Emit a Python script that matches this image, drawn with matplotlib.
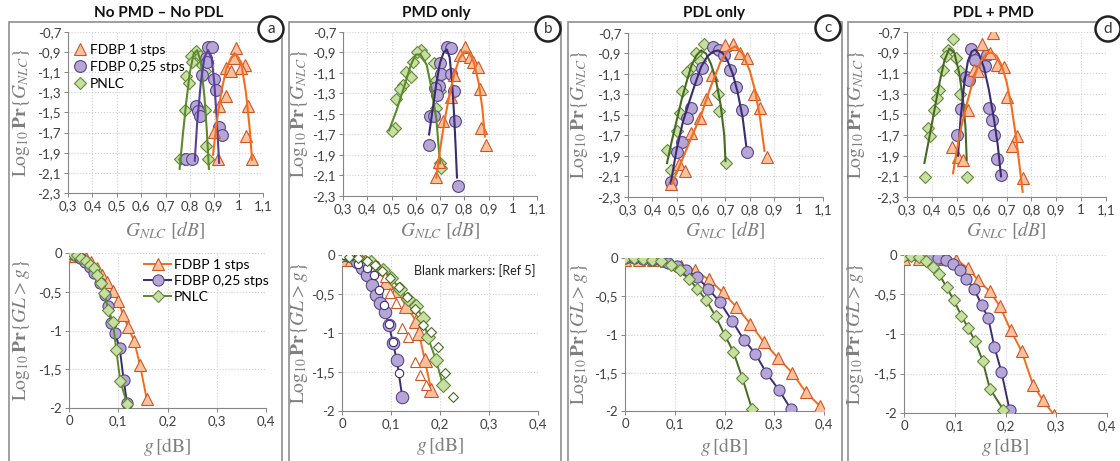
import matplotlib.pyplot as plt
from matplotlib.patches import Rectangle, Ellipse
from matplotlib.lines import Line2D

W, H = 1120, 461

plt.rcParams['font.family'] = ['Lato', 'DejaVu Sans']
plt.rcParams['mathtext.fontset'] = 'stix'

# ---------------- data: top row (scatter + fitted curve) ----------------
# panel a : No PMD - No PDL
a_f1_x = [0.99, 0.98, 0.95, 0.967, 1.025, 1.01, 0.95, 0.92, 1.04, 0.9, 1.03, 0.915, 1.056]
a_f1_y = [-0.86, -0.96, -1.06, -1.09, -1.03, -1.06, -1.34, -1.44, -1.44, -1.69, -1.73, -1.96, -1.96]
a_f1_fx = [0.895, 0.91, 0.93, 0.95, 0.97, 0.99, 1.01, 1.03, 1.045, 1.055]
a_f1_fy = [-1.92, -1.6, -1.28, -1.06, -0.95, -0.92, -1.0, -1.3, -1.65, -1.97]
a_f025_x = [0.875, 0.89, 0.868, 0.872, 0.85, 0.9, 0.908, 0.826, 0.835, 0.84, 0.92, 0.93, 0.785, 0.81]
a_f025_y = [-0.85, -0.85, -0.96, -1.0, -1.13, -1.17, -1.28, -1.44, -1.49, -1.53, -1.64, -1.72, -1.96, -1.96]
a_f025_fx = [0.82, 0.83, 0.845, 0.86, 0.875, 0.89, 0.90, 0.91, 0.92]
a_f025_fy = [-1.98, -1.6, -1.2, -0.95, -0.88, -0.97, -1.2, -1.55, -2.0]
a_pn_x = [0.826, 0.806, 0.84, 0.81, 0.85, 0.86, 0.785, 0.796, 0.78, 0.86, 0.867, 0.758, 0.776, 0.874]
a_pn_y = [-0.89, -0.94, -0.94, -1.0, -1.03, -1.09, -1.14, -1.21, -1.48, -1.48, -1.83, -1.96, -1.96, -1.96]
a_pn_fx = [0.758, 0.77, 0.785, 0.80, 0.815, 0.83, 0.845, 0.86, 0.87, 0.878]
a_pn_fy = [-2.06, -1.75, -1.4, -1.1, -0.92, -0.88, -1.0, -1.35, -1.7, -2.06]

# panel b : PMD only
b_f1_x = [0.802, 0.781, 0.822, 0.836, 0.857, 0.758, 0.744, 0.864, 0.712, 0.87, 0.89, 0.682, 0.695]
b_f1_y = [-0.85, -0.92, -0.94, -0.99, -1.04, -1.12, -1.33, -1.26, -1.57, -1.64, -1.8, -2.11, -1.97]
b_f1_fx = [0.685, 0.70, 0.72, 0.74, 0.76, 0.78, 0.80, 0.82, 0.84, 0.86, 0.875, 0.885]
b_f1_fy = [-2.12, -1.85, -1.55, -1.3, -1.1, -0.96, -0.89, -0.9, -1.0, -1.2, -1.45, -1.72]
b_f025_x = [0.729, 0.747, 0.701, 0.706, 0.747, 0.696, 0.678, 0.689, 0.758, 0.657, 0.674, 0.763, 0.655, 0.774]
b_f025_y = [-0.85, -0.86, -1.0, -1.11, -1.11, -1.23, -1.25, -1.31, -1.28, -1.52, -1.52, -1.57, -1.8, -2.2]
b_f025_fx = [0.655, 0.67, 0.685, 0.70, 0.715, 0.728, 0.74, 0.75, 0.758, 0.765, 0.77]
b_f025_fy = [-1.70, -1.45, -1.2, -1.0, -0.9, -0.87, -0.95, -1.2, -1.5, -1.85, -2.12]
b_pn_x = [0.623, 0.607, 0.635, 0.589, 0.675, 0.561, 0.582, 0.685, 0.547, 0.534, 0.52, 0.699, 0.682, 0.514, 0.5, 0.7, 0.705]
b_pn_y = [-0.873, -0.895, -0.92, -0.99, -1.0, -1.09, -1.14, -1.17, -1.22, -1.26, -1.35, -1.28, -1.44, -1.64, -1.67, -1.98, -2.03]
b_pn_fx = [0.49, 0.52, 0.55, 0.58, 0.60, 0.62, 0.645, 0.665, 0.685, 0.70]
b_pn_fy = [-1.66, -1.47, -1.25, -1.02, -0.92, -0.92, -1.02, -1.25, -1.55, -1.98]

# panel c : PDL only
c_f1_x = [0.732, 0.698, 0.76, 0.787, 0.643, 0.622, 0.815, 0.842, 0.595, 0.56, 0.87, 0.51, 0.533, 0.478]
c_f1_y = [-0.81, -0.82, -0.9, -0.94, -1.11, -1.34, -1.3, -1.43, -1.53, -1.68, -1.91, -1.98, -2.05, -2.17]
c_f1_fx = [0.48, 0.52, 0.56, 0.60, 0.64, 0.68, 0.71, 0.74, 0.77, 0.80, 0.82, 0.84, 0.86]
c_f1_fy = [-2.17, -1.95, -1.72, -1.5, -1.22, -0.98, -0.87, -0.83, -0.9, -1.07, -1.25, -1.5, -1.85]
c_f025_x = [0.65, 0.673, 0.695, 0.605, 0.58, 0.72, 0.742, 0.56, 0.54, 0.52, 0.5, 0.767, 0.787, 0.476]
c_f025_y = [-0.84, -0.87, -0.91, -1.04, -1.15, -1.06, -1.23, -1.43, -1.53, -1.76, -1.86, -1.45, -1.86, -2.15]
c_f025_fx = [0.475, 0.50, 0.525, 0.55, 0.575, 0.60, 0.625, 0.65, 0.67, 0.69, 0.71, 0.73, 0.75, 0.77, 0.785]
c_f025_fy = [-2.17, -1.83, -1.57, -1.38, -1.2, -1.03, -0.93, -0.88, -0.87, -0.9, -0.98, -1.1, -1.28, -1.52, -1.8]
c_pn_x = [0.613, 0.577, 0.595, 0.56, 0.54, 0.522, 0.513, 0.502, 0.459, 0.476, 0.668, 0.675, 0.702]
c_pn_y = [-0.805, -0.896, -0.97, -1.04, -1.08, -1.27, -1.48, -1.66, -1.84, -2.04, -1.3, -1.46, -1.97]
c_pn_fx = [0.46, 0.48, 0.50, 0.52, 0.54, 0.56, 0.58, 0.60, 0.62, 0.64, 0.66, 0.68, 0.695, 0.70]
c_pn_fy = [-1.97, -1.75, -1.55, -1.35, -1.18, -1.02, -0.92, -0.87, -0.9, -1.0, -1.15, -1.4, -1.7, -1.95]

# panel d : PDL + PMD
d_f1_x = [0.644, 0.602, 0.632, 0.568, 0.584, 0.662, 0.689, 0.702, 0.545, 0.742, 0.722, 0.481, 0.504, 0.524, 0.766]
d_f1_y = [-0.71, -0.82, -0.9, -1.07, -1.08, -1.02, -1.04, -1.33, -1.46, -1.71, -1.81, -1.82, -1.91, -1.94, -2.12]
d_f1_fx = [0.485, 0.50, 0.52, 0.54, 0.56, 0.58, 0.60, 0.62, 0.64, 0.66, 0.68, 0.70, 0.72, 0.74, 0.765]
d_f1_fy = [-2.07, -1.85, -1.6, -1.4, -1.22, -1.07, -0.97, -0.91, -0.9, -0.93, -1.02, -1.18, -1.42, -1.75, -2.25]
d_f025_x = [0.559, 0.62, 0.575, 0.615, 0.539, 0.548, 0.517, 0.628, 0.642, 0.5, 0.651, 0.662, 0.678]
d_f025_y = [-0.865, -0.92, -0.97, -1.03, -1.14, -1.17, -1.45, -1.44, -1.55, -1.7, -1.7, -1.93, -2.09]
d_f025_fx = [0.505, 0.515, 0.53, 0.545, 0.56, 0.575, 0.59, 0.61, 0.63, 0.65, 0.665, 0.678]
d_f025_fy = [-1.9, -1.55, -1.2, -0.98, -0.89, -0.87, -0.92, -1.05, -1.27, -1.55, -1.8, -2.1]
d_pn_x = [0.484, 0.464, 0.495, 0.455, 0.443, 0.514, 0.427, 0.421, 0.407, 0.514, 0.383, 0.394, 0.374, 0.541]
d_pn_y = [-0.765, -0.87, -0.95, -0.93, -1.07, -1.08, -1.26, -1.34, -1.46, -1.3, -1.63, -1.71, -2.11, -2.11]
d_pn_fx = [0.37, 0.39, 0.41, 0.43, 0.45, 0.47, 0.49, 0.51, 0.525, 0.535, 0.54]
d_pn_fy = [-1.97, -1.72, -1.46, -1.2, -0.98, -0.86, -0.9, -1.1, -1.35, -1.62, -1.94]

# ---------------- data: bottom row (log CCDF) ----------------
a_g1_x = [0.0, 0.012, 0.024, 0.034, 0.045, 0.056, 0.066, 0.077, 0.089, 0.1, 0.11, 0.12, 0.132, 0.144, 0.158]
a_g1_y = [-0.04, -0.04, -0.04, -0.06, -0.12, -0.19, -0.28, -0.37, -0.49, -0.62, -0.8, -0.96, -1.13, -1.44, -1.89]
a_g025_x = [0.0, 0.012, 0.022, 0.032, 0.042, 0.051, 0.062, 0.073, 0.08, 0.086, 0.093, 0.103, 0.111, 0.118]
a_g025_y = [0.0, -0.02, -0.06, -0.11, -0.18, -0.26, -0.39, -0.54, -0.69, -0.9, -1.03, -1.23, -1.64, -1.94]
a_gpn_x = [0.0, 0.008, 0.016, 0.025, 0.034, 0.042, 0.05, 0.056, 0.064, 0.072, 0.08, 0.089, 0.096, 0.104, 0.118]
a_gpn_y = [0.0, -0.01, -0.03, -0.06, -0.1, -0.15, -0.2, -0.29, -0.39, -0.52, -0.73, -0.89, -1.25, -1.65, -1.95]

b_g1_x = [0.0, 0.02, 0.046, 0.073, 0.09, 0.112, 0.131, 0.152, 0.157, 0.169, 0.182]
b_g1_y = [-0.05, -0.05, -0.08, -0.17, -0.34, -0.45, -0.66, -0.85, -1.0, -1.35, -1.73]
b_g1r_x = [0.087, 0.097, 0.111, 0.122, 0.135, 0.148, 0.16, 0.172]
b_g1r_y = [-0.28, -0.49, -0.62, -0.94, -1.05, -1.37, -1.54, -1.67]
b_g025_x = [0.0, 0.01, 0.019, 0.03, 0.041, 0.051, 0.062, 0.07, 0.078, 0.087, 0.096, 0.104, 0.112, 0.123]
b_g025_y = [0.0, 0.0, -0.01, -0.09, -0.17, -0.25, -0.38, -0.51, -0.62, -0.73, -0.9, -1.13, -1.35, -1.82]
b_g025r_x = [0.005, 0.016, 0.033, 0.05, 0.065, 0.075, 0.085, 0.095, 0.105, 0.116]
b_g025r_y = [0.0, -0.01, -0.12, -0.17, -0.25, -0.45, -0.64, -0.88, -1.11, -1.51]
b_gpn_x = [0.0, 0.016, 0.033, 0.06, 0.084, 0.1, 0.118, 0.135, 0.152, 0.165, 0.175, 0.192, 0.206]
b_gpn_y = [0.0, -0.01, -0.04, -0.09, -0.19, -0.3, -0.43, -0.56, -0.66, -0.81, -1.05, -1.35, -1.67]
b_gpnr_x = [0.014, 0.033, 0.051, 0.067, 0.082, 0.097, 0.116, 0.132, 0.148, 0.165, 0.181, 0.196, 0.21, 0.227]
b_gpnr_y = [-0.02, -0.04, -0.08, -0.13, -0.21, -0.3, -0.41, -0.54, -0.69, -0.9, -0.99, -1.18, -1.51, -1.82]

c_g1_x = [0.0, 0.028, 0.056, 0.083, 0.112, 0.14, 0.168, 0.197, 0.224, 0.252, 0.279, 0.308, 0.336, 0.363, 0.391]
c_g1_y = [-0.03, -0.03, -0.03, -0.04, -0.1, -0.16, -0.28, -0.45, -0.64, -0.86, -1.1, -1.31, -1.5, -1.75, -1.93]
c_g025_x = [0.0, 0.018, 0.036, 0.054, 0.072, 0.086, 0.105, 0.123, 0.145, 0.167, 0.19, 0.216, 0.239, 0.262, 0.284, 0.31, 0.333]
c_g025_y = [0.0, 0.0, -0.01, -0.02, -0.03, -0.06, -0.1, -0.16, -0.25, -0.4, -0.57, -0.83, -1.07, -1.25, -1.5, -1.73, -1.97]
c_gpn_x = [0.0, 0.019, 0.037, 0.055, 0.073, 0.092, 0.11, 0.128, 0.145, 0.163, 0.182, 0.2, 0.218, 0.236, 0.255]
c_gpn_y = [0.0, 0.0, -0.01, -0.02, -0.04, -0.09, -0.16, -0.27, -0.4, -0.55, -0.76, -1.0, -1.23, -1.57, -1.97]

d_g1_x = [0.0, 0.03, 0.06, 0.083, 0.103, 0.127, 0.146, 0.169, 0.189, 0.21, 0.232, 0.254, 0.273, 0.295]
d_g1_y = [-0.05, -0.05, -0.05, -0.05, -0.06, -0.17, -0.32, -0.46, -0.65, -0.95, -1.22, -1.64, -1.83, -2.02]
d_g025_x = [0.0, 0.014, 0.027, 0.04, 0.053, 0.067, 0.082, 0.097, 0.11, 0.123, 0.138, 0.153, 0.166, 0.178, 0.192, 0.208]
d_g025_y = [0.0, 0.0, 0.0, -0.01, -0.02, -0.04, -0.06, -0.12, -0.19, -0.3, -0.43, -0.63, -0.8, -1.16, -1.48, -1.96]
d_gpn_x = [0.0, 0.013, 0.03, 0.044, 0.057, 0.069, 0.084, 0.098, 0.113, 0.127, 0.14, 0.155, 0.169, 0.196]
d_gpn_y = [-0.01, -0.01, -0.03, -0.08, -0.15, -0.24, -0.41, -0.57, -0.77, -0.93, -1.09, -1.34, -1.69, -1.96]

titles = ['No PMD \u2013 No PDL', 'PMD only', 'PDL only', 'PDL + PMD']
title_x = [159, 436, 714, 993]
letters = ['a', 'b', 'c', 'd']
letter_xy = [(271, 29), (548, 29), (828, 28), (1108, 29)]
frames = [(9, 282), (289, 561), (568, 842), (848, 1130)]
names = ['FDBP 1 stps', 'FDBP 0,25 stps', 'PNLC']

# colours
OR_LINE, OR_FACE, OR_EDGE = '#f26d1f', '#fbc19c', '#c9572a'
PU_LINE, PU_FACE, PU_EDGE = '#3b2c72', '#b6a6d6', '#55468a'
GR_LINE, GR_FACE, GR_EDGE = '#5b8a2c', '#c7dfa2', '#65883a'
GR_LINE2 = '#466a24'

fig = plt.figure(figsize=(11.2, 4.61), dpi=100)


def px_axes(x0, x1, y0, y1):
    return fig.add_axes([x0 / W, 1 - y1 / H, (x1 - x0) / W, (y1 - y0) / H])


def fmt(v):
    s = f'{v:g}'
    return s.replace('.', ',')


def style(ax, xt, yt):
    ax.set_xticks(xt)
    ax.set_yticks(yt)
    ax.set_xticklabels([fmt(round(v, 2)) for v in xt])
    ax.set_yticklabels([fmt(round(v, 2)) for v in yt])
    ax.set_xlim(xt[0], xt[-1])
    ax.set_ylim(yt[-1], yt[0])
    for s in ['top', 'right']:
        ax.spines[s].set_visible(False)
    for s in ['left', 'bottom']:
        ax.spines[s].set_color('#868686')
        ax.spines[s].set_linewidth(0.8)
    ax.grid(True, ls=':', color='#cfcfcf', lw=0.8)
    ax.set_axisbelow(True)
    ax.tick_params(labelsize=9.5, colors='#404040', length=3, width=0.7,
                   color='#868686', pad=2)
    ax.patch.set_alpha(0)


top_boxes = [(68, 263, 32, 193), (343, 537, 32, 196), (628, 823, 33, 197), (907, 1106, 32, 197)]
bot_boxes = [(69, 266, 253, 408), (342, 538, 255, 411), (625, 824, 258, 411), (904, 1107, 255, 413)]
ylab_x_top = [22, 300, 580, 857]
ylab_x_bot = [22, 300, 580, 855]
xlab_y_top = [230, 230, 230, 230]
xlab_y_bot = [447, 446, 447, 447]

top_data = [
    (a_f1_x, a_f1_y, a_f1_fx, a_f1_fy, a_f025_x, a_f025_y, a_f025_fx, a_f025_fy, a_pn_x, a_pn_y, a_pn_fx, a_pn_fy),
    (b_f1_x, b_f1_y, b_f1_fx, b_f1_fy, b_f025_x, b_f025_y, b_f025_fx, b_f025_fy, b_pn_x, b_pn_y, b_pn_fx, b_pn_fy),
    (c_f1_x, c_f1_y, c_f1_fx, c_f1_fy, c_f025_x, c_f025_y, c_f025_fx, c_f025_fy, c_pn_x, c_pn_y, c_pn_fx, c_pn_fy),
    (d_f1_x, d_f1_y, d_f1_fx, d_f1_fy, d_f025_x, d_f025_y, d_f025_fx, d_f025_fy, d_pn_x, d_pn_y, d_pn_fx, d_pn_fy),
]
bot_data = [
    (a_g1_x, a_g1_y, a_g025_x, a_g025_y, a_gpn_x, a_gpn_y),
    (b_g1_x, b_g1_y, b_g025_x, b_g025_y, b_gpn_x, b_gpn_y),
    (c_g1_x, c_g1_y, c_g025_x, c_g025_y, c_gpn_x, c_gpn_y),
    (d_g1_x, d_g1_y, d_g025_x, d_g025_y, d_gpn_x, d_gpn_y),
]

xt_top = [0.3, 0.4, 0.5, 0.6, 0.7, 0.8, 0.9, 1.0, 1.1]
yt_top = [-0.7, -0.9, -1.1, -1.3, -1.5, -1.7, -1.9, -2.1, -2.3]
xt_bot = [0, 0.1, 0.2, 0.3, 0.4]
yt_bot = [0, -0.5, -1, -1.5, -2]

for i in range(4):
    # panel frame and title
    x0, x1 = frames[i]
    fig.patches.append(Rectangle((x0 / W, -0.1), (x1 - x0) / W, 1.1 - 22 / H,
                                 transform=fig.transFigure, fill=False,
                                 ec='#8f8f8f', lw=1.2))
    fig.text(title_x[i] / W, 1 - 13 / H, titles[i], ha='center', va='center',
             fontsize=11, fontweight='bold', color='#111111')
    cx, cy = letter_xy[i]
    fig.patches.append(Ellipse((cx / W, 1 - cy / H), 25 / W, 25 / H,
                               transform=fig.transFigure, fc='white',
                               ec='#222222', lw=1.8, zorder=5))
    fig.text(cx / W, 1 - cy / H, letters[i], ha='center', va='center',
             fontsize=11, color='#333333', zorder=6)

    # top row
    (f1x, f1y, f1fx, f1fy, f2x, f2y, f2fx, f2fy, pnx, pny, pnfx, pnfy) = top_data[i]
    ax = px_axes(*top_boxes[i])
    style(ax, xt_top, yt_top)
    gl = GR_LINE if i < 2 else GR_LINE2
    ax.plot(pnx, pny, ls='none', marker='D', ms=6.5, mfc=GR_FACE, mec=GR_EDGE, mew=0.8, zorder=2)
    ax.plot(f2x, f2y, ls='none', marker='o', ms=8.5, mfc=PU_FACE, mec=PU_EDGE, mew=0.8, zorder=2)
    ax.plot(f1x, f1y, ls='none', marker='^', ms=9, mfc=OR_FACE, mec=OR_EDGE, mew=0.8, zorder=2)
    ax.plot(pnfx, pnfy, color=gl, lw=1.5, zorder=3)
    ax.plot(f2fx, f2fy, color=PU_LINE if i else '#5a3f9a', lw=1.5, zorder=3)
    ax.plot(f1fx, f1fy, color=OR_LINE, lw=1.5, zorder=3)
    bx0, bx1, by0, by1 = top_boxes[i]
    fig.text(ylab_x_top[i] / W, 1 - (by0 + by1) / 2 / H,
             r'$\mathrm{Log}_{10}\,\mathbf{Pr}\{G_{NLC}\}$', rotation=90,
             ha='center', va='center', fontsize=14, color='#7f7f7f')
    fig.text((bx0 + bx1) / 2 / W, 1 - xlab_y_top[i] / H, r'$G_{NLC}\ [dB]$',
             ha='center', va='center', fontsize=14, color='#7f7f7f')
    if i == 0:
        handles = [
            Line2D([], [], ls='none', marker='^', ms=9, mfc=OR_FACE, mec=OR_EDGE, mew=0.8),
            Line2D([], [], ls='none', marker='o', ms=8.5, mfc=PU_FACE, mec=PU_EDGE, mew=0.8),
            Line2D([], [], ls='none', marker='D', ms=6.5, mfc=GR_FACE, mec=GR_EDGE, mew=0.8),
        ]
        ax.legend(handles, names, loc='upper left', bbox_to_anchor=(-0.01, 0.96),
                  frameon=False, fontsize=10, handletextpad=0.1, labelspacing=0.35,
                  handlelength=1.2, borderaxespad=0)

    # bottom row
    (g1x, g1y, g2x, g2y, gpx, gpy) = bot_data[i]
    ax = px_axes(*bot_boxes[i])
    style(ax, xt_bot, yt_bot)
    big = 1.12 if i == 1 else 1.0
    l1, = ax.plot(g1x, g1y, color=OR_LINE, lw=1.4, marker='^', ms=8.5 * big,
                  mfc=OR_FACE, mec=OR_EDGE, mew=0.8, zorder=3)
    l2, = ax.plot(g2x, g2y, color=PU_LINE, lw=1.4, marker='o', ms=8 * big,
                  mfc=PU_FACE, mec=PU_EDGE, mew=0.8, zorder=3)
    l3, = ax.plot(gpx, gpy, color=gl, lw=1.4, marker='D', ms=6.5 * big,
                  mfc=GR_FACE, mec=GR_EDGE, mew=0.8, zorder=3)
    if i == 1:
        ax.plot(b_g1r_x, b_g1r_y, ls='none', marker='^', ms=6.5, mfc='white',
                mec=OR_EDGE, mew=0.8, zorder=4)
        ax.plot(b_g025r_x, b_g025r_y, ls='none', marker='o', ms=6, mfc='white',
                mec=PU_LINE, mew=0.8, zorder=4)
        ax.plot(b_gpnr_x, b_gpnr_y, ls='none', marker='D', ms=5, mfc='white',
                mec=GR_LINE2, mew=0.8, zorder=4)
        ax.text(0.985, 0.9, 'Blank markers: [Ref 5]', transform=ax.transAxes,
                ha='right', va='center', fontsize=9, color='#222222')
    if i == 0:
        ax.legend([l1, l2, l3], names, loc='upper right', bbox_to_anchor=(1.04, 1.0),
                  frameon=False, fontsize=10, handletextpad=0.2, labelspacing=0.3,
                  handlelength=1.9, borderaxespad=0)
    bx0, bx1, by0, by1 = bot_boxes[i]
    fig.text(ylab_x_bot[i] / W, 1 - (by0 + by1) / 2 / H,
             r'$\mathrm{Log}_{10}\,\mathbf{Pr}\{GL>g\}$', rotation=90,
             ha='center', va='center', fontsize=14, color='#7f7f7f')
    fig.text((bx0 + bx1) / 2 / W, 1 - xlab_y_bot[i] / H, r'$g\,[\mathrm{dB}]$',
             ha='center', va='center', fontsize=14, color='#7f7f7f')

fig.savefig('out.png', dpi=100)
